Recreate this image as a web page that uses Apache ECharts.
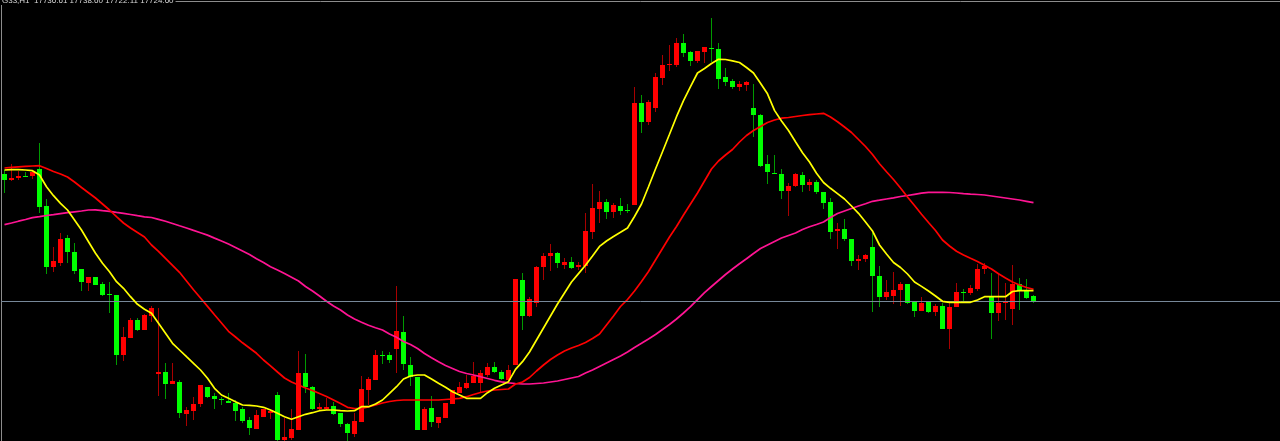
<!DOCTYPE html>
<html>
<head>
<meta charset="utf-8">
<script src="https://cdn.jsdelivr.net/npm/echarts@6/dist/echarts.min.js"></script>
<style>
html,body{margin:0;padding:0;background:#000;}
#chart{width:1280px;height:441px;}
</style>
</head>
<body>
<div id="chart"></div>
<script>
const symbolLabel = 'G33,H1';
const opens = [17980,17968,17972.6,17976.6,17976.6,17989.4,17916,17794,17802.6,17852.6,17824,17789.4,17761.4,17774.6,17760,17740,17738.6,17618,17652.6,17688,17668,17696.6,17580.6,17584,17560,17564,17500,17506,17519.4,17554.6,17536.6,17529.4,17526.6,17522.6,17510.6,17488,17470,17494.6,17502,17538,17448,17451.4,17468,17582.6,17553.4,17510,17510,17516,17501.4,17479.4,17460,17484.6,17548,17568,17618.6,17618,17630,17664.6,17598,17574.6,17468,17512.6,17481.4,17492,17520,17541.4,17551.4,17561.4,17561.4,17578,17594.6,17584,17568,17598,17768,17696.6,17721.4,17793.4,17816,17822,17798,17804.6,17793.4,17796,17864.6,17910,17924.6,17904.6,17916.6,17908,17918,18121.4,18083.4,18112.6,18172.6,18197.4,18198,18241.4,18223.4,18206,18223.4,18231.4,18229.4,18174.6,18166,18153.4,18158,18111.4,18098,18000,17982.6,17980,17946.6,17956.6,17978,17958,17964.6,17944.6,17924,17866.6,17870,17850,17806.6,17810,17833.4,17776.6,17734.6,17736.6,17748,17759.4,17723.4,17706,17723.4,17703.4,17716.6,17670,17714.6,17743.4,17741.4,17749.4,17789.4,17736,17701.4,17721.4,17710,17760,17748,17736.61];
const highs = [17988,17999.4,17986,17984.6,17988,18041.4,17929.4,17833.4,17862.6,17857.4,17841.4,17789.4,17774.6,17774.6,17764.6,17764.6,17738.6,17674.6,17691.4,17691.4,17699.4,17716.6,17711.4,17601.4,17601.4,17568,17514.6,17534.6,17558,17554.6,17541.4,17534.6,17541.4,17528,17514.6,17494.6,17508,17509.4,17508,17544.6,17491.4,17509.4,17626.6,17620,17556,17521.4,17531.4,17524.6,17501.4,17482.6,17501.4,17576,17574.6,17628,17626.6,17624.6,17756,17696,17614.6,17574.6,17514.6,17536,17494.6,17522.6,17548,17563.4,17578,17604.6,17588,17602.6,17604,17588,17598,17770,17782.6,17734.6,17796,17821.4,17839.4,17823.4,17811.4,17814.6,17804.6,17901.4,17959.4,17946,17929.4,17921.4,17931.4,17920,18153.4,18137.4,18128,18182.6,18218,18238,18252,18260,18226.6,18226.6,18234.6,18292,18242.6,18191.4,18169.4,18166.6,18166.6,18160,18099.4,18018,18018,17989.4,17961.4,17981.4,17983.4,17970,17968,17944.6,17932.6,17881.4,17889.4,17850,17818.6,17819.4,17861.4,17796.6,17768,17783.4,17764.6,17759.4,17726,17733.4,17726,17720,17721.4,17724.6,17761.4,17749.4,17758,17800,17801.4,17782.6,17781.4,17762.6,17798,17771.4,17769.4,17738.60];
const lows = [17942.6,17966.6,17968,17974.6,17970,17902.6,17780,17784.6,17796.6,17801.4,17779.4,17745.4,17746.6,17758,17736.6,17702.6,17598,17605.4,17652.6,17666.6,17668,17684,17536,17529.4,17560,17491.4,17476.6,17488,17514.6,17532.6,17510.6,17518,17521.4,17486,17481.4,17458,17470,17494.6,17490.6,17446,17446,17448,17468,17542,17508,17508,17508,17497.4,17474.6,17446,17454.6,17484.6,17518,17568,17599.4,17601.4,17582.6,17588,17556.6,17468,17468,17474.6,17472.6,17492,17520,17541.4,17549.4,17561.4,17541.4,17574.6,17581.4,17568,17564.6,17598,17668,17694.6,17714.6,17768,17786,17792.6,17789.4,17789.4,17788,17781.4,17849.4,17881.4,17889.4,17892.6,17898,17901.4,17918,18061.4,18078,18104.6,18157.4,18186.6,18193.4,18213.4,18196,18201.4,18202.6,18204.6,18150,18156,18150,18146.6,18146.6,18053.4,17993.4,17960,17979.4,17930.6,17896,17953.4,17944.6,17946.6,17940,17910,17850,17830,17846,17796,17788,17804.6,17704.6,17714.6,17728,17720,17716,17719.4,17694.6,17706,17701.4,17696,17670,17629.4,17713.4,17721.4,17738,17746.6,17780,17649.4,17686.6,17688,17678,17708,17729.4,17722.11];
const closes = [17968,17972.6,17976.6,17974.6,17984.6,17913.4,17794.6,17806.6,17850,17824,17786,17764.6,17774.6,17758,17738.6,17738,17617.4,17654,17688,17668,17698,17711.4,17584,17560,17565.4,17501.4,17508,17520,17558,17534.6,17529.4,17527.4,17521.4,17506.6,17485.4,17471.4,17498,17509.4,17506,17448,17454.6,17469.4,17582.6,17553.4,17510.6,17513.4,17513.4,17499.4,17479.4,17461.4,17486.6,17549.4,17570,17618,17616,17608,17666,17599.4,17574.6,17468,17510.6,17483.4,17494.6,17522.6,17548,17553.4,17561.4,17576,17581.4,17593.4,17583.4,17570.6,17588,17770,17696.6,17730,17794.6,17816.6,17821.4,17801.4,17804,17791.4,17798,17866.6,17912,17924.6,17904.6,17918,17906,17906,18121.4,18083.4,18124.6,18173.4,18198,18200,18241.4,18221.4,18206,18225.4,18233.4,18229.4,18170,18164.6,18153.4,18160,18164.6,18098,17996,17984.6,17979.4,17946.6,17956.6,17980,17958,17964.6,17944.6,17922.6,17864.6,17869.4,17850,17806.6,17810.6,17818,17776,17734.6,17744.6,17748,17760,17721.4,17706.6,17721.4,17703.4,17716.6,17670,17713.4,17744.6,17741.4,17751.4,17789.4,17796.6,17701.4,17721.4,17724.6,17760,17748,17731.4,17724.60];
const maFast = [17988,17988.6,17988.6,17988,17986.6,17978,17954.6,17936.6,17921.4,17908,17888,17868,17844.6,17821.4,17801.4,17784.6,17764.6,17751.4,17734.6,17719.4,17709.4,17701.4,17681.4,17661.4,17641.4,17628,17614.6,17601.4,17588,17571.4,17551.4,17538,17531.4,17524.6,17518,17517.4,17516,17513.4,17508,17501.4,17494.6,17489.4,17494.6,17499.4,17502.6,17506.6,17508,17508,17506.6,17506,17506.6,17514.6,17514.6,17520,17528,17541.4,17554.6,17570,17576,17578,17578,17570,17561.4,17553.4,17544.6,17538,17531.4,17531.4,17531.4,17542.6,17551.4,17558,17564.6,17589.4,17604.6,17624,17648,17672,17696,17720,17742,17764,17780.8,17797.4,17816,17835.2,17846,17855,17863.4,17872,17895,17920,17954.6,17990,18024.6,18059.4,18094.6,18126.6,18154.6,18182,18191,18201,18209.4,18209,18206.4,18203,18193,18182,18161.4,18140.4,18107.2,18086,18067,18044.6,18022.6,18004,17981.4,17963,17951.4,17940.8,17930,17916,17901.4,17884,17866,17838,17820,17803,17793,17780,17764,17755.2,17746,17736,17725.4,17723.4,17723.4,17723.4,17723.4,17728,17734.6,17734.6,17734.6,17734.6,17745,17746.6,17746.6,17746.6];
const maMid = [17992,17993.4,17994.4,17995.4,17996,17996.6,17991,17985,17980,17974,17964,17953,17942.6,17932,17920,17908,17894.6,17882,17872,17863,17854,17838,17825.4,17811.4,17797.4,17783.4,17766,17748.6,17732,17715.2,17698.4,17682,17665.4,17654,17642.4,17632,17621.4,17608,17596.4,17584,17572,17564,17558,17552,17547,17541,17535,17528,17521,17513.4,17511,17511.4,17514,17518,17522,17525,17527,17528,17528,17528,17528,17528,17528,17529,17530,17531.4,17534.6,17539,17543,17546,17548,17549,17550,17560,17564,17573,17586,17598,17609,17618,17626,17632,17637,17643,17651,17660,17678,17696,17715,17729,17746,17765,17785,17808,17831,17854,17875,17898,17920,17942,17966,17990,18006,18018,18029,18044,18057,18067,18075,18083,18088,18091.6,18093,18095,18097,18098.6,18100,18101.4,18094,18084.6,18074,18063,18049,18035,18019,18000.6,17984.4,17969,17952,17934,17917,17899.4,17883,17867,17848,17836,17825.4,17818,17811.4,17805,17797.4,17790,17780.4,17772,17764,17758,17753,17749.4];
const maSlow = [17878.6,17882,17885.6,17889,17892.8,17894.8,17897,17898.8,17900.8,17902.8,17904.4,17906,17908,17908.4,17906.8,17905.4,17903.2,17901.2,17899,17896.6,17894.4,17893,17889.2,17885.4,17881,17876.4,17872,17867.2,17862.6,17857.8,17851.8,17846,17840,17833,17826,17819,17810.6,17803,17794.6,17788,17780.8,17773.6,17766,17755,17746,17736,17725.4,17716,17708,17698,17690,17683.6,17677.4,17672.6,17668,17660,17653.6,17645,17639,17631,17621,17612.6,17604.6,17597,17591,17585,17581,17578,17574.6,17571,17567.4,17564.4,17562.4,17561,17560,17560,17561,17562,17564,17566,17569,17572,17575,17582,17588,17595,17602,17609,17616,17624,17633,17641.4,17650,17659,17669,17679,17690,17702,17714.6,17728.6,17742.6,17755,17767,17779,17790,17800.6,17810.6,17821,17831,17838,17845,17852,17857,17862,17869,17874.4,17879,17884,17893,17901,17906,17911,17916,17920.6,17925.4,17927.6,17930,17932.4,17935,17937,17939.4,17941.6,17943.4,17943.4,17943.4,17943,17942,17940.6,17939.6,17939,17938,17936,17934,17932,17930,17928,17925.4,17922.6];

const n = opens.length;
const last = n - 1;
const fmt = v => v.toFixed(2);
const headerText = symbolLabel + '  ' + fmt(opens[last]) + ' ' + fmt(highs[last]) + ' ' + fmt(lows[last]) + ' ' + fmt(closes[last]);
const candleData = opens.map((o, i) => [i, o, closes[i], lows[i], highs[i]]);
const withIndex = arr => arr.map((v, i) => [i, v]);

// visible bar slots across the chart width (7 px per bar)
const slotCount = 1279 / 7;

const bodyUp = '#ff0000', bodyDown = '#00ff00';
const wickUp = '#a80000', wickDown = '#009a00';

function renderCandle(params, api) {
  const i = api.value(0), o = api.value(1), c = api.value(2), l = api.value(3), h = api.value(4);
  const up = c > o;
  const pO = api.coord([i, o]), pC = api.coord([i, c]);
  const pL = api.coord([i, l]), pH = api.coord([i, h]);
  const x = Math.floor(pO[0]) + 0.5;
  const top = Math.round(Math.min(pO[1], pC[1]));
  const bot = Math.round(Math.max(pO[1], pC[1]));
  const hgt = Math.max(bot - top, 1);
  return {
    type: 'group',
    children: [
      { type: 'line', shape: { x1: x, y1: Math.round(pH[1]), x2: x, y2: Math.round(pL[1]) },
        style: { stroke: up ? wickUp : wickDown, lineWidth: 1 } },
      { type: 'rect', shape: { x: x - 2.5, y: top, width: 5, height: hgt },
        style: { fill: up ? bodyUp : bodyDown } }
    ]
  };
}

const chart = echarts.init(document.getElementById('chart'), null, { renderer: 'canvas' });
chart.setOption({
  backgroundColor: '#000000',
  animation: false,
  title: {
    text: headerText,
    left: 0, top: -3,
    padding: [0, 2, 0, 2],
    backgroundColor: '#000000',
    textStyle: { color: '#d8d8d8', fontSize: 8, fontWeight: 'normal', fontFamily: 'Liberation Sans, Arial, sans-serif' }
  },
  grid: { left: 1, right: 0, top: 1, bottom: 0 },
  xAxis: {
    type: 'value', min: -0.5, max: -0.5 + slotCount, position: 'top',
    axisLine: { show: true, onZero: false, lineStyle: { color: '#8c8c8c', width: 1 } },
    axisTick: { show: false }, axisLabel: { show: false }, splitLine: { show: false }
  },
  yAxis: {
    type: 'value', min: 17446, max: 18326, position: 'left',
    axisLine: { show: true, onZero: false, lineStyle: { color: '#8c8c8c', width: 1 } },
    axisTick: { show: false }, axisLabel: { show: false }, splitLine: { show: false }
  },
  series: [
    {
      type: 'line', data: [], symbol: 'none', z: 1,
      markLine: {
        silent: true, symbol: ['none', 'none'], label: { show: false },
        lineStyle: { color: '#778899', width: 1, type: 'solid' },
        data: [{ yAxis: closes[last] }]
      }
    },
    {
      type: 'custom', renderItem: renderCandle, data: candleData, z: 2,
      encode: { x: 0, y: [1, 2, 3, 4] }, clip: true
    },
    { type: 'line', data: withIndex(maSlow), symbol: 'none', z: 3, lineStyle: { color: '#ff1493', width: 1.7 } },
    { type: 'line', data: withIndex(maMid), symbol: 'none', z: 4, lineStyle: { color: '#ff0000', width: 1.7 } },
    { type: 'line', data: withIndex(maFast), symbol: 'none', z: 5, lineStyle: { color: '#ffff00', width: 1.7 } }
  ]
});
</script>
</body>
</html>
